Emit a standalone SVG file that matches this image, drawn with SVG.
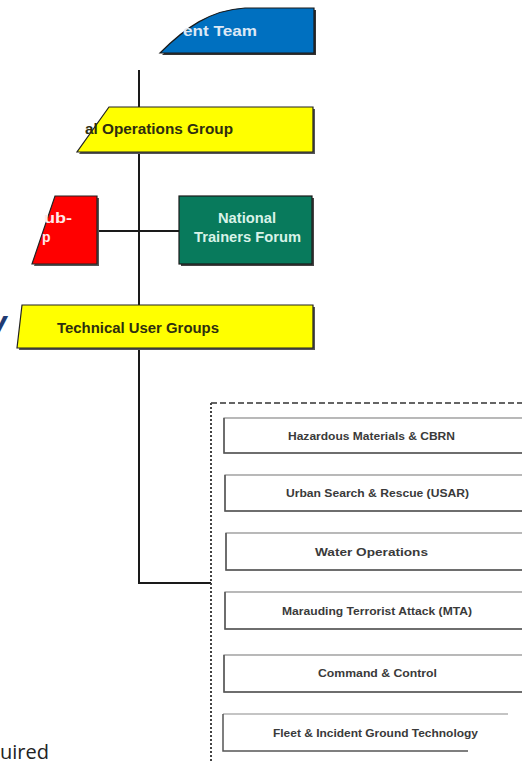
<svg xmlns="http://www.w3.org/2000/svg" width="522" height="761" viewBox="0 0 522 761">
<style>
.lbl{font-family:"Liberation Sans",Arial,sans-serif;font-weight:bold;font-size:14px}
.sm{font-family:"Liberation Sans",Arial,sans-serif;font-weight:bold;font-size:11px;fill:#3a3a3a}
.bx{fill:#fff;stroke:#8a8a8a;stroke-width:1.2}
.sh{fill:none;stroke:#555;stroke-width:1.5}
.edge{fill:none;stroke:#1a1a1a;stroke-width:2}
</style>
<rect width="522" height="761" fill="#fff"/>
<g id="connectors">
<path class="edge" d="M139,70 V583 H211"/>
<path class="edge" d="M97,231 H179"/>
</g>
<g id="management-team">
<path d="M162,55 C187,30 212,12 247,10 L316,10 L316,55 Z" fill="#333"/>
<path d="M160,53 C185,28 210,10 245,8 L314,8 L314,53 Z" fill="#0070c0" stroke="#1a1a1a" stroke-width="1.2"/>
<text class="lbl" x="183" y="36" fill="#dde8f5" textLength="74" lengthAdjust="spacingAndGlyphs">ent Team</text>
</g>
<g id="operations-group">
<path d="M111,109 L315,109 L315,154 L79,154 Z" fill="#555"/>
<path d="M109,107 L313,107 L313,152 L77,152 Z" fill="#ffff00" stroke="#222" stroke-width="1.2"/>
<text class="lbl" x="85" y="134" fill="#2e2e10" textLength="148" lengthAdjust="spacingAndGlyphs">al Operations Group</text>
</g>
<g id="sub-group">
<path d="M57,198 L99,198 L99,266 L34,266 Z" fill="#555"/>
<path d="M55,196 L97,196 L97,264 L32,264 Z" fill="#ff0000" stroke="#222" stroke-width="1.2"/>
<text class="lbl" x="44" y="223" fill="#ffe8e8" textLength="28" lengthAdjust="spacingAndGlyphs">ub-</text>
<text class="lbl" x="42" y="242" fill="#ffe8e8">p</text>
</g>
<g id="national-trainers-forum">
<rect x="181" y="198" width="133" height="68" fill="#444"/>
<rect x="179" y="196" width="133" height="68" fill="#087a5c" stroke="#1a1a1a" stroke-width="1.2"/>
<text class="lbl" x="218" y="223" fill="#d8f3e8" textLength="58" lengthAdjust="spacingAndGlyphs">National</text>
<text class="lbl" x="194" y="242" fill="#d8f3e8" textLength="107" lengthAdjust="spacingAndGlyphs">Trainers Forum</text>
</g>
<g id="title-fragment">
<text x="-9" y="333" font-family="'Open Sans','Noto Sans',sans-serif" font-weight="bold" font-style="italic" font-size="30" fill="#1f3b73">v</text>
</g>
<g id="technical-user-groups">
<path d="M24,307 L315,307 L315,350 L19,350 Z" fill="#555"/>
<path d="M22,305 L313,305 L313,348 L17,348 Z" fill="#ffff00" stroke="#222" stroke-width="1.2"/>
<text class="lbl" x="57" y="333" fill="#2e2e10" textLength="162" lengthAdjust="spacingAndGlyphs">Technical User Groups</text>
</g>
<g id="tug-container">
<path d="M211,403 H522" fill="none" stroke="#333" stroke-width="1.5" stroke-dasharray="6 3"/>
<path d="M211,403 V761" fill="none" stroke="#444" stroke-width="2" stroke-dasharray="2 2"/>
</g>
<g id="hazmat">
<rect class="bx" x="224" y="418" width="310" height="35"/>
<path class="sh" d="M224,418 V453 H534"/>
<text class="sm" x="288" y="440" textLength="167" lengthAdjust="spacingAndGlyphs">Hazardous Materials &amp; CBRN</text>
</g>
<g id="usar">
<rect class="bx" x="225" y="475" width="310" height="36"/>
<path class="sh" d="M225,475 V511 H535"/>
<text class="sm" x="286" y="497" textLength="183" lengthAdjust="spacingAndGlyphs">Urban Search &amp; Rescue (USAR)</text>
</g>
<g id="water">
<rect class="bx" x="226" y="533" width="310" height="37"/>
<path class="sh" d="M226,533 V570 H536"/>
<text class="sm" x="315" y="556" textLength="113" lengthAdjust="spacingAndGlyphs">Water Operations</text>
</g>
<g id="mta">
<rect class="bx" x="225" y="592" width="310" height="37"/>
<path class="sh" d="M225,592 V629 H535"/>
<text class="sm" x="282" y="615" textLength="190" lengthAdjust="spacingAndGlyphs">Marauding Terrorist Attack (MTA)</text>
</g>
<g id="command">
<rect class="bx" x="224" y="655" width="310" height="37"/>
<path class="sh" d="M224,655 V692 H534"/>
<text class="sm" x="318" y="677" textLength="119" lengthAdjust="spacingAndGlyphs">Command &amp; Control</text>
</g>
<g id="fleet">
<path d="M223,714 H508" fill="none" stroke="#8a8a8a" stroke-width="1.2"/>
<path class="sh" d="M223,714 V751 H468"/>
<text class="sm" x="273" y="737" textLength="205" lengthAdjust="spacingAndGlyphs">Fleet &amp; Incident Ground Technology</text>
</g>
<g id="footer-fragment">
<text x="0" y="759" font-family="'Open Sans','Noto Sans',sans-serif" font-size="20" fill="#222">uired</text>
</g>
</svg>
